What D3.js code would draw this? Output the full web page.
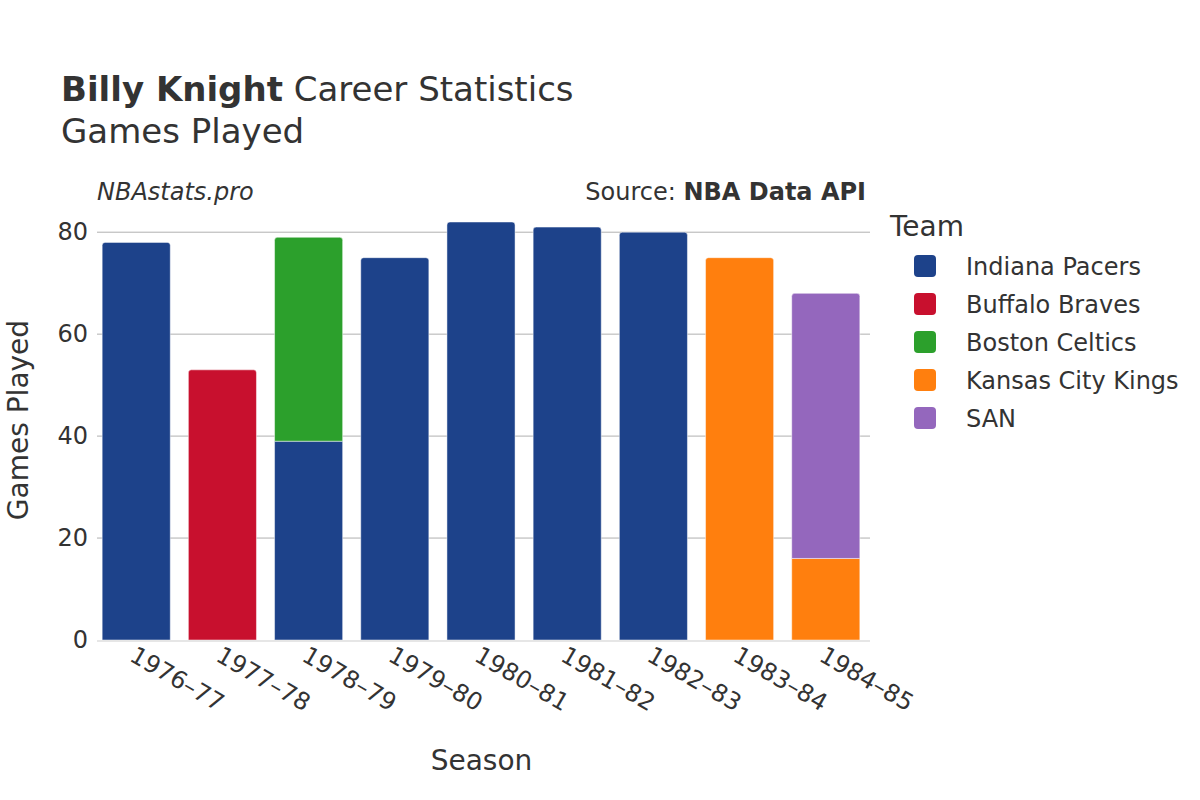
<html>
<head>
  <script type="text/javascript" src="https://d3js.org/d3.v7.min.js"></script>
  <style>
      body { margin: 0; background: #fff; }
      text { font-family: "DejaVu Sans", sans-serif; fill: #333; }
  </style>
</head>
<body>
<div id="chart"></div>
<script>
    // seasons and games played per team (stack order = legend order)
    let seasons = ["1976–77", "1977–78", "1978–79", "1979–80", "1980–81", "1981–82", "1982–83", "1983–84", "1984–85"];
    let teams = ["Indiana Pacers", "Buffalo Braves", "Boston Celtics", "Kansas City Kings", "SAN"];
    let teamColors = ["#1d428a", "#c8102e", "#2ca02c", "#ff7f0e", "#9467bd"];
    let indiana = [78, 0, 39, 75, 82, 81, 80, 0, 0];
    let buffalo = [0, 53, 0, 0, 0, 0, 0, 0, 0];
    let boston = [0, 0, 40, 0, 0, 0, 0, 0, 0];
    let kansas = [0, 0, 0, 0, 0, 0, 0, 75, 16];
    let san = [0, 0, 0, 0, 0, 0, 0, 0, 52];
    let yTicks = [0, 20, 40, 60, 80];

    let series = [indiana, buffalo, boston, kansas, san];

    let width = 1200;
    let height = 800;
    let margin = {top: 222, right: 330, bottom: 160, left: 97};
    let CHART_WIDTH = width - margin.left - margin.right;
    let CHART_HEIGHT = height - margin.top - margin.bottom;

    const svg = d3.select('#chart')
        .append('svg')
        .attr('width', width)
        .attr('height', height);

    const xScale = d3.scaleBand()
        .range([0, CHART_WIDTH - 5])
        .domain(seasons)
        .paddingInner(0.21)
        .paddingOuter(0.06);

    const yScale = d3.scaleLinear()
        .range([CHART_HEIGHT, 0])
        .domain([0, 82]);

    const g = svg.append('g')
        .attr('transform', `translate(${margin.left}, ${margin.top})`);

    // gridlines
    g.selectAll(".grid")
        .data(yTicks.filter(d => d > 0))
        .enter()
        .append("line")
        .attr("x1", 0)
        .attr("x2", CHART_WIDTH)
        .attr("y1", d => yScale(d))
        .attr("y2", d => yScale(d))
        .attr("stroke", "#b0b0b0")
        .attr("stroke-width", 1);

    // stacked segments
    let rows = [];
    seasons.forEach((s, i) => {
        let base = 0;
        let last = -1;
        series.forEach((vals, t) => { if (vals[i] > 0) last = t; });
        series.forEach((vals, t) => {
            if (vals[i] > 0) {
                rows.push({season: s, team: t, y0: base, y1: base + vals[i], top: t === last});
                base += vals[i];
            }
        });
    });

    function barPath(d) {
        let x0 = xScale(d.season), x1 = x0 + xScale.bandwidth();
        let yt = yScale(d.y1), yb = yScale(d.y0);
        let r = d.top ? 3 : 0;
        return `M${x0},${yb} L${x0},${yt + r} Q${x0},${yt} ${x0 + r},${yt} L${x1 - r},${yt} Q${x1},${yt} ${x1},${yt + r} L${x1},${yb} Z`;
    }

    g.selectAll(".bar")
        .data(rows)
        .enter()
        .append("path")
        .attr("class", "bar")
        .attr("d", barPath)
        .attr("fill", d => teamColors[d.team])
        .attr("stroke", "#ffffff")
        .attr("stroke-opacity", 0.6)
        .attr("stroke-width", 0.8);

    // zero line
    g.append("line")
        .attr("x1", 0)
        .attr("x2", CHART_WIDTH)
        .attr("y1", yScale(0) + 1)
        .attr("y2", yScale(0) + 1)
        .attr("stroke", "#e6e6e6")
        .attr("stroke-width", 2);

    // y axis labels
    const yAxis = g.append("g")
        .call(d3.axisLeft(yScale).tickValues(yTicks).tickSize(0).tickPadding(9));
    yAxis.select(".domain").remove();
    yAxis.selectAll("text")
        .style("font-size", "24px")
        .style("font-family", "DejaVu Sans")
        .attr("fill", "#333");

    // x axis labels, rotated
    const xAxis = g.append("g")
        .attr("transform", `translate(0, ${CHART_HEIGHT})`)
        .call(d3.axisBottom(xScale).tickSize(0).tickPadding(0));
    xAxis.select(".domain").remove();
    xAxis.selectAll("text")
        .style("font-size", "24px")
        .style("font-family", "DejaVu Sans")
        .attr("fill", "#333")
        .attr("text-anchor", "start")
        .attr("dy", 0)
        .attr("transform", "translate(-8, 20) rotate(30)");

    // titles
    const title = svg.append("text")
        .attr("x", 61)
        .attr("y", 101)
        .style("font-size", "34px");
    title.append("tspan").style("font-weight", "bold").text("Billy Knight");
    title.append("tspan").text(" Career Statistics");

    svg.append("text")
        .attr("x", 61)
        .attr("y", 143)
        .style("font-size", "34px")
        .text("Games Played");

    svg.append("text")
        .attr("x", 97)
        .attr("y", 200)
        .style("font-size", "24px")
        .style("font-style", "italic")
        .text("NBAstats.pro");

    const src = svg.append("text")
        .attr("x", 866)
        .attr("y", 200)
        .attr("text-anchor", "end")
        .style("font-size", "24px");
    src.append("tspan").text("Source: ");
    src.append("tspan").style("font-weight", "bold").text("NBA Data API");

    svg.append("text")
        .attr("x", margin.left + CHART_WIDTH / 2 - 2)
        .attr("y", 770)
        .attr("text-anchor", "middle")
        .style("font-size", "28px")
        .text("Season");

    svg.append("text")
        .attr("transform", `translate(28, 420) rotate(-90)`)
        .attr("text-anchor", "middle")
        .style("font-size", "28px")
        .text("Games Played");

    // legend
    svg.append("text")
        .attr("x", 890)
        .attr("y", 236)
        .style("font-size", "28px")
        .text("Team");

    const legend = svg.selectAll(".legend")
        .data(teams)
        .enter()
        .append("g")
        .attr("class", "legend")
        .attr("transform", (d, i) => `translate(914, ${266 + i * 38})`);

    legend.append("rect")
        .attr("x", 0)
        .attr("y", -11)
        .attr("width", 22)
        .attr("height", 22)
        .attr("rx", 4)
        .attr("fill", (d, i) => teamColors[i]);

    legend.append("text")
        .attr("x", 52)
        .attr("y", 9)
        .style("font-size", "24px")
        .text(d => d);
</script>
</body>
</html>
